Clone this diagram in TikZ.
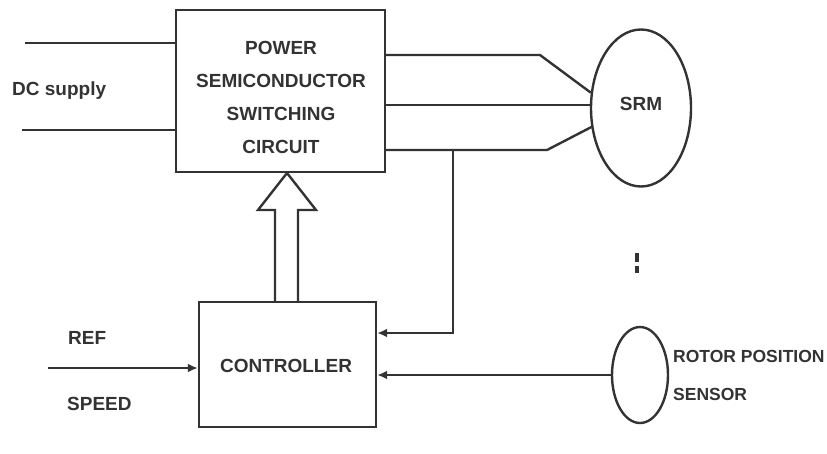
\documentclass[tikz,border=0pt]{standalone}
\usepackage{fontspec}
\setmainfont{Liberation Sans}
\usetikzlibrary{arrows.meta,shapes.geometric}
\begin{document}
\begin{tikzpicture}[x=1pt,y=-1pt,
  wire/.style={line width=2.4pt,draw=black!80},
  block/.style={draw=black!80,line width=2.4pt,rectangle,inner sep=0pt},
  lbl/.style={font=\fontsize{19}{33}\selectfont\bfseries,text=black!80,inner sep=0pt,align=center},
  arr/.style={wire,-{Latex[length=10pt,width=9pt]}}]
\useasboundingbox (0,0) rectangle (827,453);
% blocks
\node[block,minimum width=209pt,minimum height=162pt] (psc) at (280.5,91) {};
\node[lbl,text width=205pt] at (281,97) {POWER\\SEMICONDUCTOR\\SWITCHING\\CIRCUIT};
\node[block,minimum width=177pt,minimum height=125pt] (ctrl) at (287.5,364.5) {};
\node[lbl] at (286,366) {CONTROLLER};
\node[draw=black!80,line width=2.4pt,ellipse,minimum width=100pt,minimum height=157pt,inner sep=0pt] (srm) at (641,108) {};
\node[lbl] at (641,104) {SRM};
\node[draw=black!80,line width=2.4pt,ellipse,minimum width=56pt,minimum height=96pt,inner sep=0pt] (rps) at (640,375) {};
\node[lbl,anchor=west,font=\fontsize{17.5}{33}\selectfont\bfseries] (rpst) at (673,356) {ROTOR POSITION};
\node[lbl,anchor=west,font=\fontsize{17.5}{33}\selectfont\bfseries] at (673,394) {SENSOR};
% DC supply
\coordinate (d1) at (25,43);
\coordinate (d2) at (22,130);
\draw[wire] (d1) -- (d1 -| psc.west);
\draw[wire] (d2) -- (d2 -| psc.west);
\node[lbl,anchor=west] at (12,91) {DC supply};
% outputs to SRM
\coordinate (o1) at (385,55);
\coordinate (o2) at (385,105);
\coordinate (o3) at (385,150);
\coordinate (b1) at (540,55);
\coordinate (b3) at (547,150);
\draw[wire] (o1) -- (b1) -- (srm.163);
\draw[wire] (o2) -- (o2 -| srm.west);
\draw[wire] (o3) -- (b3) -- (srm.201);
% feedback from phase current
\coordinate (fb) at (453,150);
\coordinate (fc) at (453,333);
\draw[arr] (fb) -- (fc) -- (fc -| ctrl.east);
% sensor to controller
\draw[arr] (rps.west) -- (rps.west -| ctrl.east);
% ref speed input
\coordinate (rs) at (48,368);
\draw[arr] (rs) -- (rs -| ctrl.west);
\node[lbl,anchor=west] at (68,338) {REF};
\node[lbl,anchor=west] at (67,404) {SPEED};
% hollow arrow
\draw[line width=2.4pt,draw=black!80,line join=miter]
  (275,302) -- (275,210) -- (258,210) -- (287,173) -- (316,210) -- (298,210) -- (298,302);
% shaft mark
\draw[line width=3.5pt,draw=black!80] (637,253) -- (637,262);
\draw[line width=3.5pt,draw=black!80] (637,266) -- (637,273);
\end{tikzpicture}
\end{document}
